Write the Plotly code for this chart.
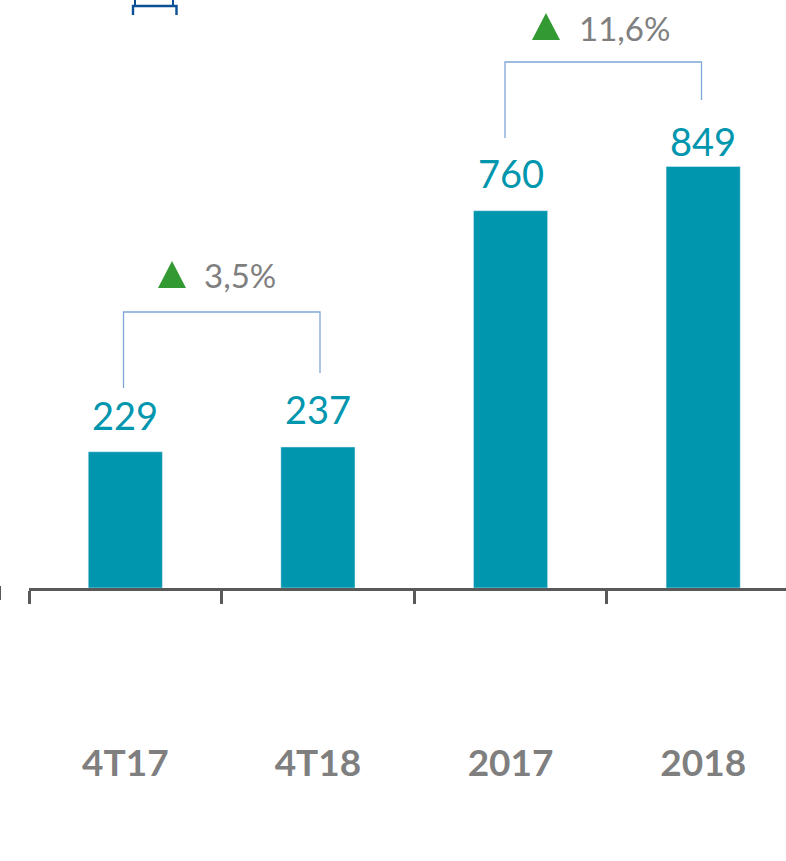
import plotly.graph_objects as go

categories = ["4T17", "4T18", "2017", "2018"]
quarter_values = [229, 237]
annual_values = [760, 849]
growth_labels = ["3,5%", "11,6%"]

W, H, BASE = 786, 861, 588
TEAL = "#0096AE"
GREY = "#7F7F7F"
AXIS = "#595959"
FONT = "Lato, Carlito, sans-serif"

def py(pixel):
    return (BASE - pixel) / BASE

def px(pixel):
    return pixel / W

fig = go.Figure()
fig.add_bar(x=categories[:2], y=quarter_values, marker_color=TEAL, width=0.385,
            xaxis="x", yaxis="y", hoverinfo="skip")
fig.add_bar(x=categories[2:], y=annual_values, marker_color=TEAL, width=0.385,
            xaxis="x", yaxis="y2", hoverinfo="skip")

annotations = []
label_shifts = [(0, quarter_values[0], "y", 12), (1, quarter_values[1], "y", 13),
                (2, annual_values[0], "y2", 13), (3, annual_values[1], "y2", 0)]
for idx, val, yref, shift in label_shifts:
    annotations.append(dict(x=idx, y=val, xref="x", yref=yref, text=str(val), showarrow=False,
                            yanchor="bottom", yshift=shift,
                            font=dict(family=FONT, size=38, color=TEAL)))

for text, xpix, ypix in [(growth_labels[0], 240, 275), (growth_labels[1], 624, 28)]:
    annotations.append(dict(x=px(xpix), y=py(ypix), xref="paper", yref="paper", text=text,
                            showarrow=False, xanchor="center", yanchor="middle",
                            font=dict(family=FONT, size=33, color=GREY)))

shapes = []
for path in ["M 123.5 388 L 123.5 312 L 320 312 L 320 373", "M 505 138 L 505 62 L 701.5 62 L 701.5 100"]:
    coords = path.split()
    pts = [(float(coords[i + 1]), float(coords[i + 2])) for i in range(0, len(coords), 3)]
    p = " ".join(("M" if i == 0 else "L") + f" {px(a):.5f} {py(b):.5f}" for i, (a, b) in enumerate(pts))
    shapes.append(dict(type="path", path=p, xref="paper", yref="paper",
                       line=dict(color="#7FA6D6", width=1.3)))

for left, right, top, bottom in [(158, 186, 261, 288), (532, 560, 13, 40)]:
    p = f"M {px(left):.5f} {py(bottom):.5f} L {px((left + right) / 2):.5f} {py(top):.5f} L {px(right):.5f} {py(bottom):.5f} Z"
    shapes.append(dict(type="path", path=p, xref="paper", yref="paper",
                       fillcolor="#339933", line=dict(width=0)))

# fragment of a cropped bracket at the top of the picture
shapes.append(dict(type="path",
                   path=f"M {px(133):.5f} {py(15):.5f} L {px(133):.5f} {py(6):.5f} L {px(176.5):.5f} {py(6):.5f} L {px(176.5):.5f} {py(15):.5f}",
                   xref="paper", yref="paper", line=dict(color="#0B4F96", width=2.4)))
for xp in (135, 173):
    shapes.append(dict(type="line", x0=px(xp), x1=px(xp), y0=py(0), y1=py(6), xref="paper", yref="paper",
                       line=dict(color="#0B4F96", width=2)))
# stray axis tick at the left edge
shapes.append(dict(type="line", x0=px(0), x1=px(0), y0=py(586), y1=py(600), xref="paper", yref="paper",
                   line=dict(color=AXIS, width=2)))

fig.update_layout(
    width=W, height=H, margin=dict(l=0, r=0, t=0, b=H - BASE),
    paper_bgcolor="white", plot_bgcolor="white", showlegend=False, barmode="overlay",
    font=dict(family=FONT),
    xaxis=dict(type="category", categoryorder="array", categoryarray=categories, domain=[px(29), 1],
               range=[-0.5, 3.43], tickson="boundaries", ticks="outside", ticklen=13, tickwidth=3,
               tickcolor=AXIS, showline=True, linecolor=AXIS, linewidth=3, showgrid=False,
               ticklabelstandoff=141, tickfont=dict(family=FONT, size=37, color=GREY, weight="bold")),
    yaxis=dict(range=[0, BASE / 0.595], visible=False, domain=[0, 1], fixedrange=True),
    yaxis2=dict(range=[0, BASE / 0.4965], visible=False, overlaying="y", domain=[0, 1], fixedrange=True),
    annotations=annotations, shapes=shapes,
)
fig.write_html("out.html", config=dict(displayModeBar=False),
               post_script="document.body.style.margin='0';document.body.style.overflow='hidden';window.dispatchEvent(new Event('resize'));")
